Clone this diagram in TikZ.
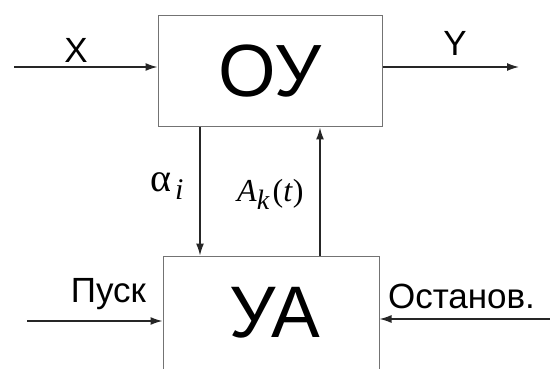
\documentclass[tikz,border=0pt]{standalone}
\usepackage{fontspec}
\setmainfont{Liberation Sans}
\newfontfamily\serifit{Liberation Serif}
\usetikzlibrary{arrows.meta}
\begin{document}
\begin{tikzpicture}[x=1pt,y=-1pt,
  blockbox/.style={draw=black!55,line width=1pt,inner sep=0pt,fill=white},
  sig/.style={draw=black!85,line width=1.4pt,-{Latex[length=12pt,width=8pt]}},
  lbl/.style={inner sep=0pt,font=\fontsize{35}{35}\selectfont}]
\useasboundingbox (0,0) rectangle (550,369);
\clip (0,0) rectangle (550,369);
% operating unit and control unit
\node[blockbox,minimum width=224pt,minimum height=111pt,
      font=\fontsize{74}{74}\selectfont] (ou) at (270,71.5) {ОУ};
\node[blockbox,minimum width=216pt,minimum height=130pt] (ua) at (271,321) {};
\node[inner sep=0pt,font=\fontsize{73}{73}\selectfont] (uatext) at (275,313) {УА};
% free ends of the external signals
\coordinate (xin) at (14,67);
\coordinate (yout) at (519,67);
\coordinate (start) at (27,321);
\coordinate (stop) at (550,319);
\coordinate (dn) at (200,0);
\coordinate (up) at (320,0);
\draw[sig] (xin) -- (xin -| ou.west);
\draw[sig] (yout -| ou.east) -- (yout);
\draw[sig] (start) -- (start -| ua.west);
\draw[sig] (stop) -- (stop -| ua.east);
\draw[sig] (ou.south -| dn) -- (ua.north -| dn);
\draw[sig] (ua.north -| up) -- (ou.south -| up);
% labels
\node[lbl] (xl) at (76,50) {X};
\node[lbl] (yl) at (455,43) {Y};
\node[lbl,anchor=base] (pusk) at (108.5,302) {Пуск};
\node[lbl,anchor=base] (ostanov) at (461.5,308) {Останов.};
\node[inner sep=0pt,anchor=base west,font=\fontsize{40}{40}\selectfont\serifit] (alpha) at (150,192)
  {α\hspace{4pt}\textit{\fontsize{30}{30}\selectfont\raisebox{-8pt}{i}}};
\node[inner sep=0pt,anchor=base west,font=\fontsize{32}{32}\selectfont\serifit] (ak) at (237,201)
  {\textit{A}\raisebox{-9pt}{\textit{\fontsize{28}{28}\selectfont k}}\hspace{3pt}(\textit{t})};
\end{tikzpicture}
\end{document}
